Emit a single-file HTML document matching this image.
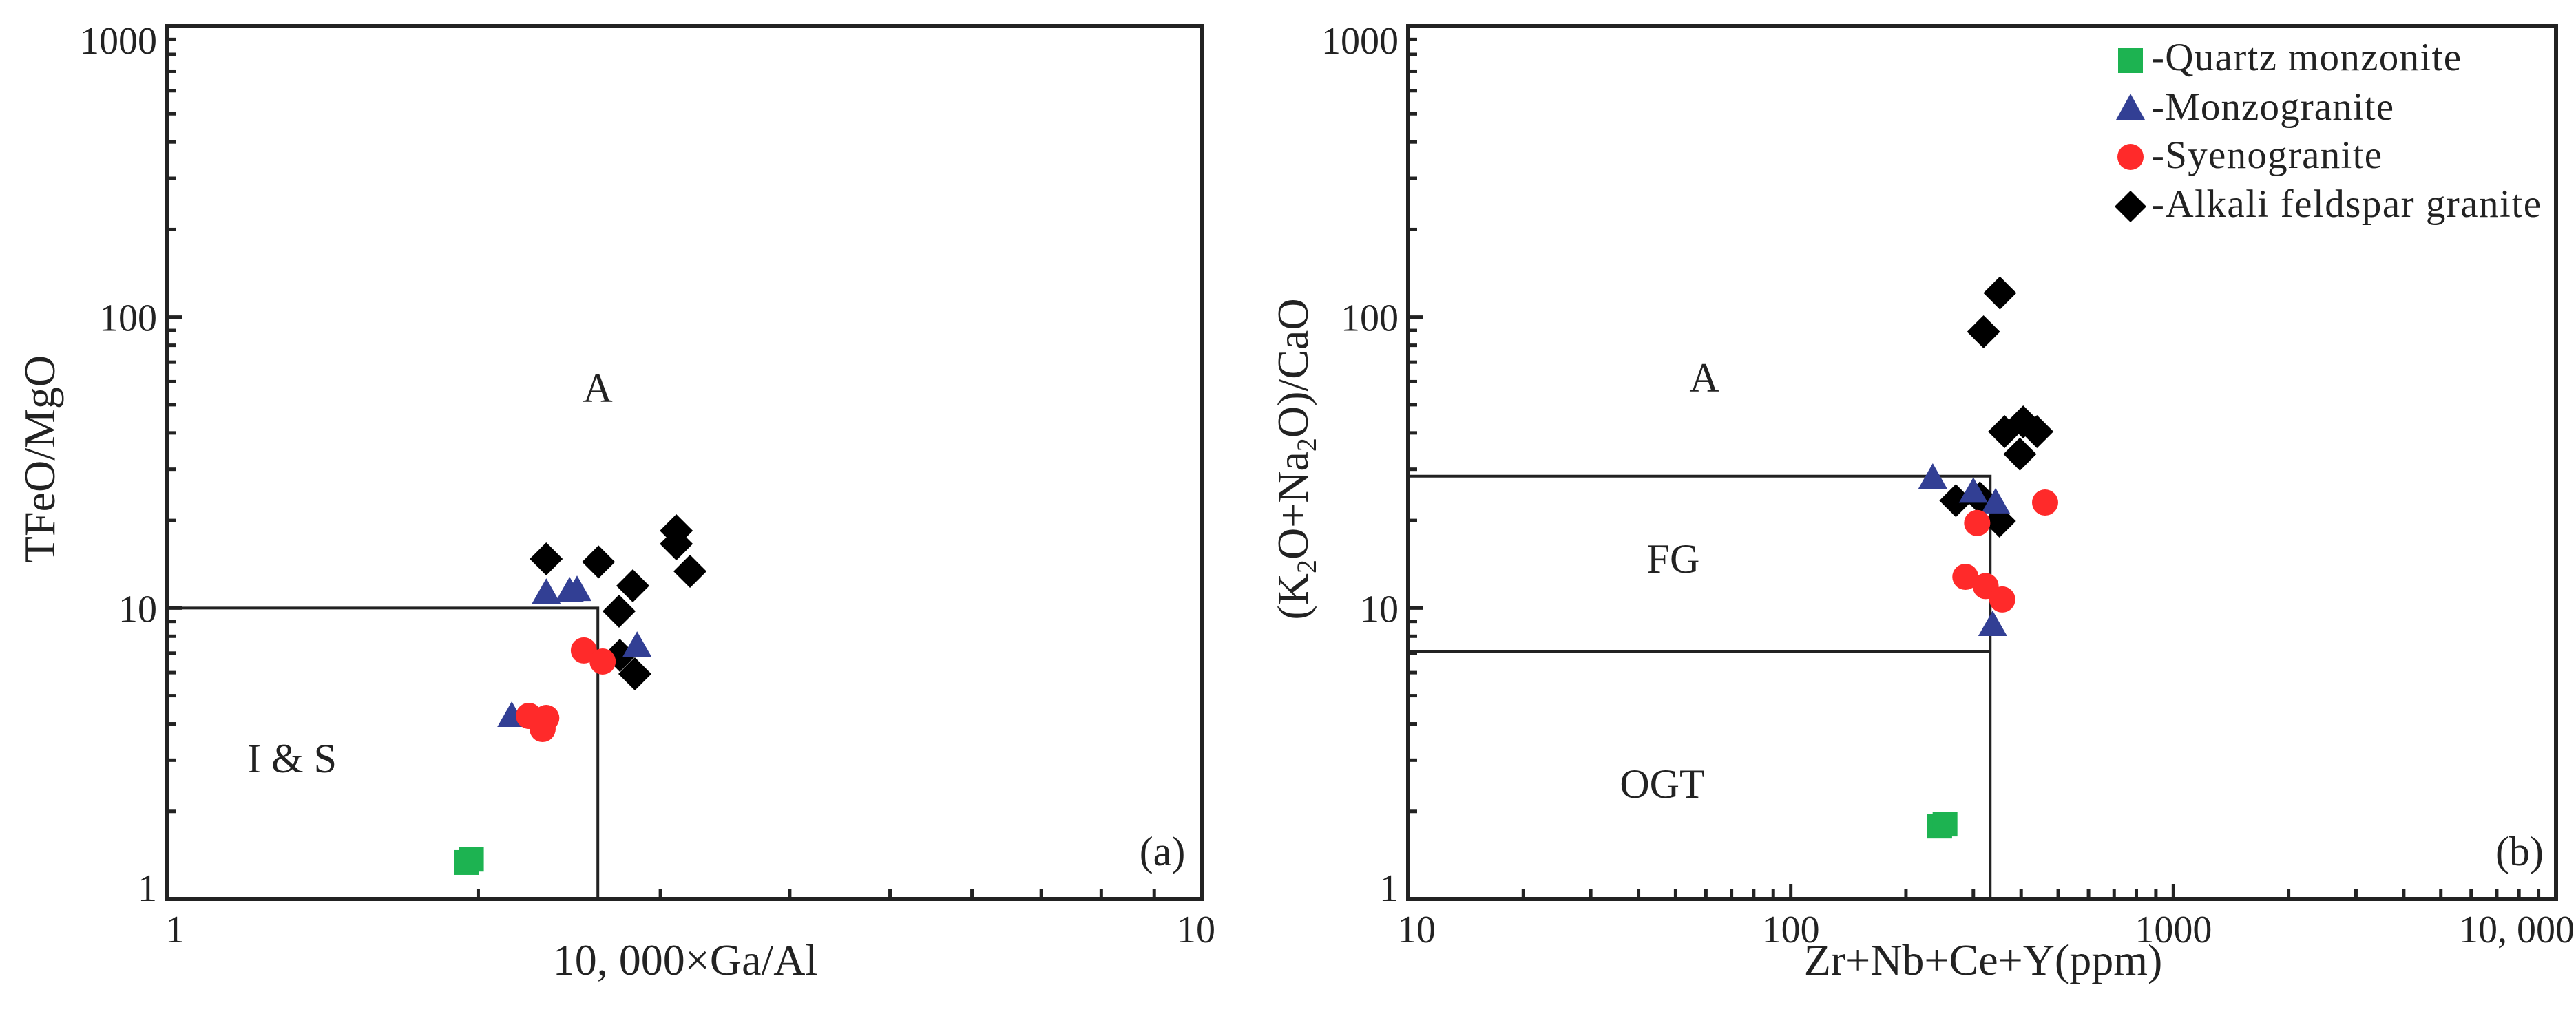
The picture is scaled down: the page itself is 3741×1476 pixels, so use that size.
<!DOCTYPE html>
<html><head><meta charset="utf-8"><title>Granite discrimination diagrams</title>
<style>
html,body{margin:0;padding:0;background:#fff;}
svg{display:block;}
text{font-family:"Liberation Serif","Times New Roman",serif;fill:#222;}
</style></head>
<body>
<svg id="fig" xmlns="http://www.w3.org/2000/svg" width="3741" height="1476" viewBox="0 0 3741 1476">
<rect x="0" y="0" width="3741" height="1476" fill="#fff"/>
<g id="panelA"></g>
<g id="panelB"></g>
</svg>
<script>
// ---- Panel (a) data: 10000*Ga/Al vs TFeO/MgO ----
const aQuartzX = [1.95, 1.97];
const aQuartzY = [1.335, 1.37];
const aMonzoX = [2.155, 2.327, 2.451, 2.492, 2.848];
const aMonzoY = [4.19, 11.1, 11.23, 11.35, 7.30];
const aSyenoX = [2.239, 2.327, 2.308, 2.530, 2.638];
const aSyenoY = [4.26, 4.19, 3.84, 7.15, 6.55];
const aAlkaliX = [2.327, 2.614, 2.821, 2.736, 2.834, 2.741, 3.108, 3.108, 3.204];
const aAlkaliY = [14.75, 14.4, 11.93, 9.75, 5.94, 6.88, 18.44, 16.62, 13.37];
const aXTicks = ["1", "10"];
const aYTicks = ["1", "10", "100", "1000"];
const aBoxX = 2.61, aBoxY = 10;

// ---- Panel (b) data: Zr+Nb+Ce+Y vs (K2O+Na2O)/CaO ----
const bQuartzX = [245, 253];
const bQuartzY = [1.78, 1.81];
const bMonzoX = [235, 300, 343, 337];
const bMonzoY = [27.6, 24.7, 22.7, 8.6];
const bSyenoX = [307, 462, 286, 323, 357];
const bSyenoY = [19.6, 23.05, 12.8, 11.9, 10.7];
const bAlkaliX = [352, 319, 362, 405, 440, 397, 270, 351, 312];
const bAlkaliY = [121, 89, 40.4, 43.6, 40.4, 33.8, 23.4, 19.9, 23.9];
const bXTicks = ["10", "100", "1000", "10, 000"];
const bYTicks = ["1", "10", "100", "1000"];
const bBoxX = 332, bBoxTop = 28.4, bBoxLow = 7.1;

const NS = "http://www.w3.org/2000/svg";
function el(tag, attrs, parent){
  const e = document.createElementNS(NS, tag);
  for (const k in attrs) e.setAttribute(k, attrs[k]);
  parent.appendChild(e);
  return e;
}
const COL = {q:"#1db351", m:"#323f94", s:"#ff2a2a", a:"#000"};

function marker(kind, cx, cy, g){
  let e;
  if (kind === "q") e = el("rect", {x:cx-18, y:cy-18, width:36, height:36, fill:COL.q}, g);
  else if (kind === "m") e = el("polygon", {points:`${cx},${cy-24} ${cx+21},${cy+13} ${cx-21},${cy+13}`, fill:COL.m}, g);
  else if (kind === "s") e = el("circle", {cx:cx, cy:cy, r:19, fill:COL.s}, g);
  else e = el("polygon", {points:`${cx},${cy-24} ${cx+24},${cy} ${cx},${cy+24} ${cx-24},${cy}`, fill:COL.a}, g);
  return e;
}

function makeAxes(g, L, R, T, B, xmin, xdec, ymin, ydec){
  const sx = v => L + Math.log10(v / xmin) / xdec * (R - L);
  const sy = v => B - Math.log10(v / ymin) / ydec * (B - T);
  return {sx, sy};
}

function drawPanel(cfg){
  const g = document.getElementById(cfg.id);
  const {L,R,T,B} = cfg;
  const {sx, sy} = makeAxes(g, L, R, T, B, cfg.xmin, cfg.xdec, 1, 3);
  // ticks
  const tg = el("g", {}, g);
  
  
  for (let d = 0; d < 3; d++) for (let k = 1; k <= 9; k++){
    const v = Math.pow(10, d) * k; const y = sy(v);
    if (y <= T+1 || y >= B-1) continue;
    el("line", {x1:L, x2:L + (k===1?22:13), y1:y, y2:y, stroke:"#222", "stroke-width":5}, tg);
  }
  for (let d = 0; d < cfg.xdec; d++) for (let k = 2; k <= 9; k++){
    const x = sx(cfg.xmin * Math.pow(10, d) * k);
    el("line", {x1:x, x2:x, y1:B, y2:B-14, stroke:"#222", "stroke-width":5}, tg);
  }
  for (let d = 1; d < cfg.xdec; d++){
    const x = sx(cfg.xmin * Math.pow(10, d));
    el("line", {x1:x, x2:x, y1:B, y2:B-22, stroke:"#222", "stroke-width":5}, tg);
  }
  // frame
  const fr = el("rect", {x:L, y:T, width:R-L, height:B-T, fill:"none", stroke:"#222", "stroke-width":6}, g);
  
  
  // boundary lines
  const bg = el("g", {stroke:"#222", "stroke-width":4, fill:"none"}, g);
  
  
  cfg.boundaries(bg, sx, sy);
  // y tick labels
  cfg.yTicks.forEach((t, i) => {
    const y = sy(Math.pow(10, i));
    let by = y + 20;
    if (i === 0) by = y + 3;
    if (i === 3) by = y + 40;
    const tx = el("text", {x:L - 14, y:by, "font-size":56, "text-anchor":"end"}, g);
    tx.textContent = t;
    
    
  });
  // x tick labels
  cfg.xTicks.forEach((t, i) => {
    let x = sx(cfg.xmin * Math.pow(10, i));
    let anchor = "middle";
    if (i === 0) x += 12;
    if (i === cfg.xTicks.length - 1 && cfg.lastEnd){ x = 3739; anchor = "end"; }
    else if (i === cfg.xTicks.length - 1) x -= 8;
    const tx = el("text", {x:x, y:B + 63, "font-size":56, "text-anchor":anchor}, g);
    tx.textContent = t;
    
    
  });
  // series
  cfg.series.forEach(s => {
    const sg = el("g", {}, g);
    
    
    s.x.forEach((xv, i) => {
      const m = marker(s.kind, sx(xv), sy(s.y[i]), sg);
      
      
    });
  });
  return {sx, sy, g};
}

// Panel A
const pa = drawPanel({
  id:"panelA", prefix:"panel-a", L:242, R:1745, T:38, B:1306, xmin:1, xdec:1,
  xTicks:aXTicks, yTicks:aYTicks, lastEnd:false,
  boundaries:(bg, sx, sy) => {
    el("polyline", {points:`${sx(1)},${sy(aBoxY)} ${sx(aBoxX)},${sy(aBoxY)} ${sx(aBoxX)},${sy(1)}`}, bg);
  },
  series:[
    {name:"alkali-feldspar-granite", kind:"a", x:aAlkaliX, y:aAlkaliY},
    {name:"monzogranite", kind:"m", x:aMonzoX, y:aMonzoY},
    {name:"syenogranite", kind:"s", x:aSyenoX, y:aSyenoY},
    {name:"quartz-monzonite", kind:"q", x:aQuartzX, y:aQuartzY}
  ]
});
// Panel B
const pb = drawPanel({
  id:"panelB", prefix:"panel-b", L:2045, R:3712, T:38, B:1306, xmin:10, xdec:3,
  xTicks:bXTicks, yTicks:bYTicks, lastEnd:true,
  boundaries:(bg, sx, sy) => {
    el("polyline", {points:`${sx(10)},${sy(bBoxTop)} ${sx(bBoxX)},${sy(bBoxTop)} ${sx(bBoxX)},${sy(1)}`}, bg);
    el("line", {x1:sx(10), y1:sy(bBoxLow), x2:sx(bBoxX), y2:sy(bBoxLow)}, bg);
  },
  series:[
    {name:"alkali-feldspar-granite", kind:"a", x:bAlkaliX, y:bAlkaliY},
    {name:"monzogranite", kind:"m", x:bMonzoX, y:bMonzoY},
    {name:"syenogranite", kind:"s", x:bSyenoX, y:bSyenoY},
    {name:"quartz-monzonite", kind:"q", x:bQuartzX, y:bQuartzY}
  ]
});
</script>
<script>
(function(){
  const svg = document.getElementById("fig");
  function txt(x, y, s, size, name, extra){
    const t = document.createElementNS("http://www.w3.org/2000/svg", "text");
    t.setAttribute("x", x); t.setAttribute("y", y);
    t.setAttribute("font-size", size);
    if (extra) for (const k in extra) t.setAttribute(k, extra[k]);
    t.textContent = s;
    
    
    svg.appendChild(t);
    return t;
  }
  // axis titles
  txt(995, 1416, "10, 000×Ga/Al", 64, "panel-a-x-axis-title", {"text-anchor":"middle"});
  txt(2880, 1416, "Zr+Nb+Ce+Y(ppm)", 64, "panel-b-x-axis-title", {"text-anchor":"middle"});
  txt(0, 0, "TFeO/MgO", 64, "panel-a-y-axis-title", {"text-anchor":"middle", transform:"translate(79,667) rotate(-90)"});
  const yb = txt(0, 0, "", 64, "panel-b-y-axis-title", {"text-anchor":"middle", transform:"translate(1899,667) rotate(-90)"});
  yb.innerHTML = '(K<tspan font-size="40" dy="12">2</tspan><tspan dy="-12">O+Na</tspan><tspan font-size="40" dy="12">2</tspan><tspan dy="-12">O)/CaO</tspan>';
  // region labels
  txt(868, 584, "A", 60, "region-label-a", {"text-anchor":"middle"});
  txt(424, 1122, "I & S", 60, "region-label-i-and-s", {"text-anchor":"middle"});
  txt(1688, 1257, "(a)", 60, "panel-a-letter", {"text-anchor":"middle"});
  txt(2475, 569, "A", 60, "region-label-a-b", {"text-anchor":"middle"});
  txt(2430, 832, "FG", 60, "region-label-fg", {"text-anchor":"middle"});
  txt(2414, 1159, "OGT", 60, "region-label-ogt", {"text-anchor":"middle"});
  txt(3659, 1257, "(b)", 60, "panel-b-letter", {"text-anchor":"middle"});
})();
</script>
<svg style="position:absolute;left:0;top:0" width="3741" height="1476">
  <g font-family="Liberation Serif, serif" font-size="57" fill="#222">
    <g>
      <rect x="3076" y="70" width="36" height="36" fill="#1db351"/>
      <text x="3124" y="102" textLength="450" style="font-family:'Liberation Serif',serif;font-size:57px;fill:#222">-Quartz monzonite</text>
    </g>
    <g>
      <polygon points="3094,136 3115,174 3073,174" fill="#323f94"/>
      <text x="3124" y="174" textLength="352" style="font-family:'Liberation Serif',serif;font-size:57px;fill:#222">-Monzogranite</text>
    </g>
    <g>
      <circle cx="3094" cy="228" r="19" fill="#ff2a2a"/>
      <text x="3124" y="244" textLength="335" style="font-family:'Liberation Serif',serif;font-size:57px;fill:#222">-Syenogranite</text>
    </g>
    <g>
      <polygon points="3094,277 3117,300 3094,323 3071,300" fill="#000"/>
      <text x="3124" y="315" textLength="566" style="font-family:'Liberation Serif',serif;font-size:57px;fill:#222">-Alkali feldspar granite</text>
    </g>
  </g>
</svg>
</body></html>
